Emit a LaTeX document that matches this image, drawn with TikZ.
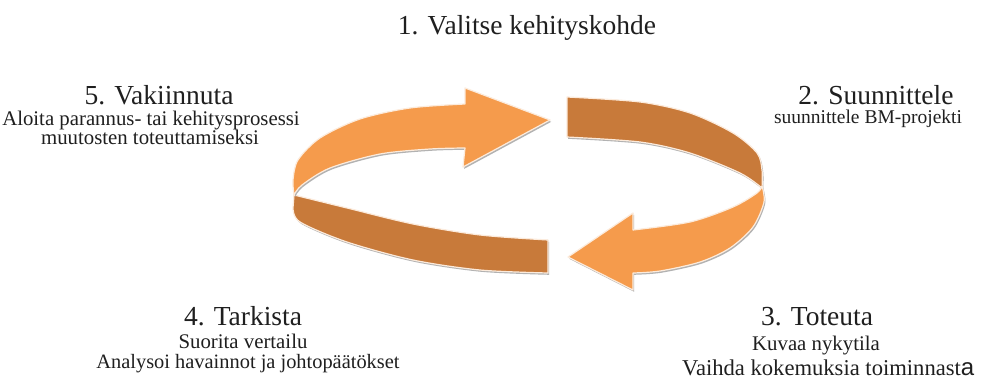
\documentclass[tikz,border=0pt]{standalone}
\usepackage{fontspec}
\setmainfont{Liberation Serif}
\newfontfamily\serifx{Liberation Serif}
\newfontfamily\sansa{Liberation Sans}
\definecolor{lightor}{HTML}{F59B4C}
\definecolor{darkor}{HTML}{C87A3A}
\definecolor{rimcol}{HTML}{FCEBDC}
\newcommand\ringD[1]{\path[#1] plot[smooth] coordinates {(294,195) (347,208) (413,224) (480,235) (548,240)} -- (548,273) -- plot[smooth] coordinates {(548,273) (480,270) (413,260) (347,242) (300,222) (293,208)} -- cycle;}
\newcommand\ringA[1]{\path[#1] (550,120) -- (465,88) -- plot[smooth] coordinates {(465,104) (410,108) (360,119) (320,138) (298,160) (293,180) (294,195)} -- plot[smooth] coordinates {(294,195) (302,185) (330,168) (380,154) (430,149) (465,148)} -- (463,167) -- cycle;}
\newcommand\ringB[1]{\path[#1] plot[smooth] coordinates {(567,97) (640,102) (690,113) (733,133) (757,153) (762,170) (762,188)} -- plot[smooth] coordinates {(762,188) (740,173) (690,153) (640,142) (567,137)} -- cycle;}
\newcommand\ringC[1]{\path[#1] plot[smooth] coordinates {(762,186) (764,202) (753,227) (730,248) (700,262) (660,271) (633,273)} -- (633,290) -- (568,257) -- (633,213) -- plot[smooth] coordinates {(633,230) (690,222) (733,207) (757,193) (762,186)} -- cycle;}
\begin{document}
\begin{tikzpicture}[x=1pt,y=-1pt]
\tikzset{
 shadowpart/.style={fill=black!30, shift={(1.2,1.8)}},
 lightpart/.style={fill=lightor, draw=rimcol, line width=1.2pt, line join=round},
 darkpart/.style={fill=darkor, draw=rimcol, line width=1.2pt, line join=round},
 head/.style={font=\serifx\fontsize{27.5}{30}\selectfont, anchor=base, inner sep=0, text=black!88},
 sub/.style={font=\serifx\fontsize{20.8}{24}\selectfont, anchor=base, inner sep=0, text=black!88},
}
\fill[white] (0,0) rectangle (981,385);
\useasboundingbox (0,0) rectangle (981,385);
\ringD{shadowpart}
\ringD{darkpart}
\ringB{shadowpart}
\ringB{darkpart}
\ringA{shadowpart}
\ringA{lightpart}
\ringC{shadowpart}
\ringC{lightpart}
\node[head] (t1) at (527,35) {1. Valitse kehityskohde};
\node[head] (t5) at (159,105) {5. Vakiinnuta};
\node[sub] (t5a) at (151,125) {Aloita parannus- tai kehitysprosessi};
\node[sub] (t5b) at (150,144) {muutosten toteuttamiseksi};
\node[head] (t2) at (876,104) {2. Suunnittele};
\node[sub, font=\serifx\fontsize{19.5}{22}\selectfont] (t2a) at (868,124) {suunnittele BM-projekti};
\node[head] (t3) at (817,325) {3. Toteuta};
\node[sub] (t3a) at (816,350) {Kuvaa nykytila};
\node[sub, anchor=base west, font=\serifx\fontsize{22.6}{26}\selectfont] (t3b) at (682,375) {Vaihda kokemuksia toiminnast{\sansa\fontsize{24}{26}\selectfont a}};
\node[head] (t4) at (243,325) {4. Tarkista};
\node[sub] (t4a) at (243,348) {Suorita vertailu};
\node[sub, font=\serifx\fontsize{20.4}{24}\selectfont] (t4b) at (248,368) {Analysoi havainnot ja johtopäätökset};
\end{tikzpicture}
\end{document}
